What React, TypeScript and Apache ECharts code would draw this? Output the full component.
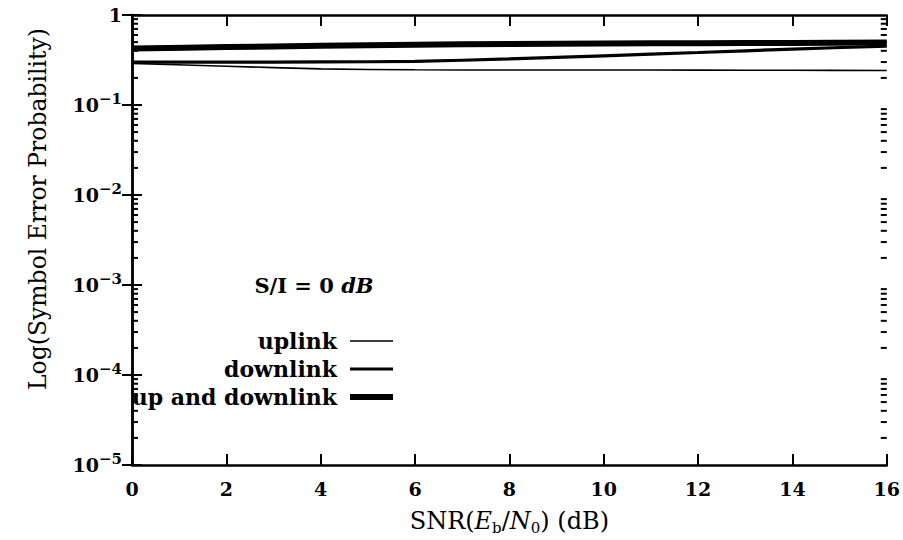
import React, { useEffect, useRef } from "react";
import * as echarts from "echarts";

// SNR (dB) sample points
const snr = [0, 2, 4, 6, 8, 10, 12, 14, 16];
// symbol error probabilities
const uplink = [0.29, 0.27, 0.252, 0.246, 0.245, 0.245, 0.244, 0.243, 0.242];
const downlink = [0.3, 0.3, 0.301, 0.306, 0.325, 0.352, 0.383, 0.418, 0.452];
const upAndDownlink = [0.425, 0.44, 0.455, 0.468, 0.476, 0.482, 0.486, 0.49, 0.494];

const seriesNames = ["uplink", "downlink", "up and downlink"];
const seriesWidths = [1.6, 3.2, 6];
// minor tick mantissas inside each decade
const minorMantissas = [2, 3, 4, 5, 6, 7, 8, 9];
const decadeExponents = [-5, -4, -3, -2, -1];

const SERIF = "'DejaVu Serif', serif";

export default function App() {
  const ref = useRef<HTMLDivElement>(null);

  useEffect(() => {
    if (!ref.current) return;
    const chart = echarts.init(ref.current, undefined, { renderer: "svg" });

    const toPairs = (ys: number[]) => snr.map((x, i) => [x, ys[i]]);
    const minorValues: number[][] = [];
    decadeExponents.forEach((e) =>
      minorMantissas.forEach((m) => minorValues.push([0, m * Math.pow(10, e)]))
    );

    const labelRich = {
      b: { fontFamily: SERIF, fontWeight: "bold", fontSize: 19, color: "#000", lineHeight: 27 },
      s: { fontFamily: SERIF, fontWeight: "bold", fontSize: 15, color: "#000", verticalAlign: "top", lineHeight: 15 },
    };

    const yFormatter = (v: number) => {
      const e = Math.round(Math.log10(v));
      if (e === 0) return "{b|1}";
      return `{b|10}{s|\u2212${-e}}`;
    };

    const xAxisBase = {
      type: "value",
      min: 0,
      max: 16,
      interval: 2,
      splitLine: { show: false },
      axisLine: { show: true, lineStyle: { color: "#000", width: 2.5 } },
      axisTick: { show: true, inside: true, length: 11, lineStyle: { color: "#000", width: 2 } },
    };
    const yAxisBase = {
      type: "log",
      logBase: 10,
      min: 0.00001,
      max: 1,
      splitNumber: 5,
      splitLine: { show: false },
      axisLine: { show: true, lineStyle: { color: "#000", width: 2.5 } },
      axisTick: { show: true, inside: true, length: 10, lineStyle: { color: "#000", width: 2 } },
    };

    const legendTop = 341;
    const legendGap = 28;

    chart.setOption({
      animation: false,
      backgroundColor: "#fff",
      grid: { left: 132, right: 16, top: 15, bottom: 75, containLabel: false },
      xAxis: [
        {
          ...xAxisBase,
          position: "bottom",
          axisLabel: {
            margin: 14,
            fontFamily: SERIF,
            fontWeight: "bold",
            fontSize: 19,
            color: "#000",
            formatter: (v: number) => String(v),
          },
          name: "SNR({i|E}{sb|b}/{i|N}{sb|0}) (dB)",
          nameLocation: "middle",
          nameGap: 42,
          nameTextStyle: {
            fontFamily: SERIF,
            fontSize: 24,
            color: "#000",
            rich: {
              i: { fontFamily: SERIF, fontSize: 24, fontStyle: "italic", color: "#000", lineHeight: 28 },
              sb: { fontFamily: SERIF, fontSize: 15, color: "#000", verticalAlign: "bottom", lineHeight: 16 },
            },
          },
        },
        { ...xAxisBase, position: "top", axisLabel: { show: false } },
      ],
      yAxis: [
        {
          ...yAxisBase,
          position: "left",
          axisLabel: { margin: 10, formatter: yFormatter, rich: labelRich },
        },
        { ...yAxisBase, position: "right", axisLabel: { show: false } },
      ],
      graphic: [
        {
          type: "text",
          x: 38,
          y: 209,
          rotation: Math.PI / 2,
          style: {
            text: "Log(Symbol Error Probability)",
            fontFamily: SERIF,
            fontSize: 23.5,
            fill: "#000",
            textAlign: "center",
            textVerticalAlign: "middle",
          },
        },
        {
          type: "text",
          x: 314,
          y: 285,
          style: {
            text: "{b|S/I = 0 }{i|dB}",
            textAlign: "center",
            textVerticalAlign: "middle",
            rich: {
              b: { fontFamily: SERIF, fontWeight: "bold", fontSize: 21, fill: "#000" },
              i: { fontFamily: SERIF, fontWeight: "bold", fontStyle: "italic", fontSize: 21, fill: "#000" },
            },
          },
        },
        ...seriesNames.flatMap((name, i) => [
          {
            type: "text",
            x: 337,
            y: legendTop + i * legendGap,
            style: {
              text: name,
              fontFamily: SERIF,
              fontWeight: "bold",
              fontSize: 22,
              fill: "#000",
              textAlign: "right",
              textVerticalAlign: "middle",
            },
          },
          {
            type: "line",
            shape: { x1: 350, y1: legendTop + i * legendGap, x2: 393, y2: legendTop + i * legendGap },
            style: { stroke: "#000", lineWidth: seriesWidths[i] },
          },
        ]),
      ],
      series: [
        ...[uplink, downlink, upAndDownlink].map((ys, i) => ({
          type: "line",
          name: seriesNames[i],
          data: toPairs(ys),
          showSymbol: false,
          smooth: 0.3,
          lineStyle: { color: "#000", width: seriesWidths[i] },
          z: 3 + i,
        })),
        {
          // minor log ticks on the left and right frame edges
          type: "custom",
          name: "minor ticks",
          data: minorValues,
          silent: true,
          clip: false,
          z: 10,
          renderItem: (params: any, api: any) => {
            const v = api.value(1);
            const y = api.coord([0, v])[1];
            const cs = params.coordSys;
            const left = cs.x;
            const right = cs.x + cs.width;
            return {
              type: "group",
              children: [
                { type: "line", shape: { x1: left, y1: y, x2: left + 6, y2: y }, style: { stroke: "#000", lineWidth: 2 } },
                { type: "line", shape: { x1: right - 6, y1: y, x2: right, y2: y }, style: { stroke: "#000", lineWidth: 2 } },
              ],
            };
          },
        },
      ],
    });

    return () => chart.dispose();
  }, []);

  return <div ref={ref} style={{ width: 903, height: 540, position: "absolute", left: 0, top: 0 }} />;
}
